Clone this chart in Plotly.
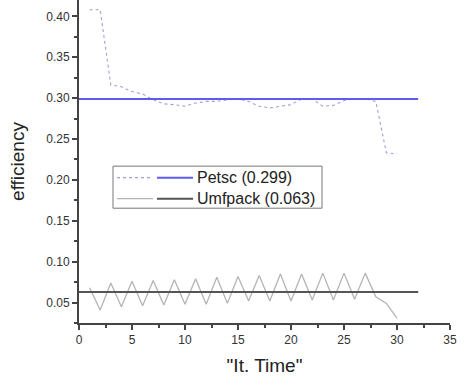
import plotly.graph_objects as go

# ---- data ----
iters = list(range(1, 31))
petsc = [0.408, 0.408, 0.316, 0.314, 0.308, 0.305, 0.298, 0.293, 0.292, 0.290,
         0.294, 0.296, 0.296, 0.298, 0.299, 0.296, 0.290, 0.288, 0.290, 0.292,
         0.299, 0.299, 0.290, 0.291, 0.297, 0.299, 0.299, 0.296, 0.233, 0.232]
umfpack = [0.068, 0.041, 0.074, 0.045, 0.076, 0.046, 0.077, 0.047, 0.078, 0.048,
           0.079, 0.048, 0.081, 0.049, 0.082, 0.052, 0.083, 0.052, 0.085, 0.052,
           0.085, 0.053, 0.086, 0.053, 0.086, 0.054, 0.086, 0.057, 0.049, 0.031]
mean_x = [0, 32]
petsc_mean = 0.299
umfpack_mean = 0.063
legend_labels = ["Petsc (0.299)", "Umfpack (0.063)"]

C_PETSC_DOT = "#a0a0d4"
C_PETSC_MEAN = "#5c5cf2"
C_UMF = "#b4b4b4"
C_UMF_MEAN = "#555555"

fig = go.Figure()
fig.add_trace(go.Scatter(x=iters, y=petsc, mode="lines",
                         line=dict(color=C_PETSC_DOT, width=1.1, dash="dot")))
fig.add_trace(go.Scatter(x=iters, y=umfpack, mode="lines",
                         line=dict(color=C_UMF, width=1.3)))
fig.add_trace(go.Scatter(x=mean_x, y=[petsc_mean] * 2, mode="lines",
                         line=dict(color=C_PETSC_MEAN, width=2)))
fig.add_trace(go.Scatter(x=mean_x, y=[umfpack_mean] * 2, mode="lines",
                         line=dict(color=C_UMF_MEAN, width=2)))

# ---- manual legend (two samples per row, like the original) ----
L, R, T, B = 79, 450, 0, 322.7
def px(xp): return (xp - L) / (R - L)
def py(yp): return (B - yp) / (B - T)

shapes = [dict(type="rect", xref="paper", yref="paper",
               x0=px(113), x1=px(322), y0=py(208), y1=py(166),
               line=dict(color="#777777", width=1), fillcolor="white", layer="above")]
rows = [(177.5, C_PETSC_DOT, "dot", C_PETSC_MEAN),
        (198.5, C_UMF, "solid", C_UMF_MEAN)]
annotations = []
for (yy, c1, d1, c2), lab in zip(rows, legend_labels):
    shapes.append(dict(type="line", xref="paper", yref="paper", x0=px(117), x1=px(153),
                       y0=py(yy), y1=py(yy), line=dict(color=c1, width=1.2, dash=d1), layer="above"))
    shapes.append(dict(type="line", xref="paper", yref="paper", x0=px(157), x1=px(193),
                       y0=py(yy), y1=py(yy), line=dict(color=c2, width=2), layer="above"))
    annotations.append(dict(xref="paper", yref="paper", x=px(195), y=py(yy), text=lab,
                            showarrow=False, xanchor="left", yanchor="middle",
                            font=dict(family="Liberation Sans, Arial", size=16, color="#222222")))

axis_common = dict(showgrid=False, zeroline=False, showline=True, linecolor="#444444",
                   linewidth=2, ticks="outside", ticklen=5, tickwidth=1.5, tickcolor="#444444",
                   tickfont=dict(family="Liberation Sans, Arial", size=12, color="#333333"))

fig.update_layout(
    width=465, height=384,
    margin=dict(l=79, r=15, t=0, b=61.3),
    paper_bgcolor="white", plot_bgcolor="white",
    showlegend=False,
    shapes=shapes, annotations=annotations,
    xaxis=dict(range=[0, 35], tick0=0, dtick=5,
               minor=dict(ticks="outside", ticklen=3, dtick=2.5, tickcolor="#444444"),
               title=dict(text='"It. Time"', standoff=12,
                          font=dict(family="Liberation Sans, Arial", size=19, color="#222222")),
               **axis_common),
    yaxis=dict(range=[0.025, 0.42], tick0=0.05, dtick=0.05, tickformat=".2f",
               minor=dict(ticks="outside", ticklen=3, dtick=0.025, tickcolor="#444444"),
               title=dict(text="efficiency", standoff=17,
                          font=dict(family="Liberation Sans, Arial", size=19, color="#222222")),
               **axis_common),
)

fig.write_html("out.html")
